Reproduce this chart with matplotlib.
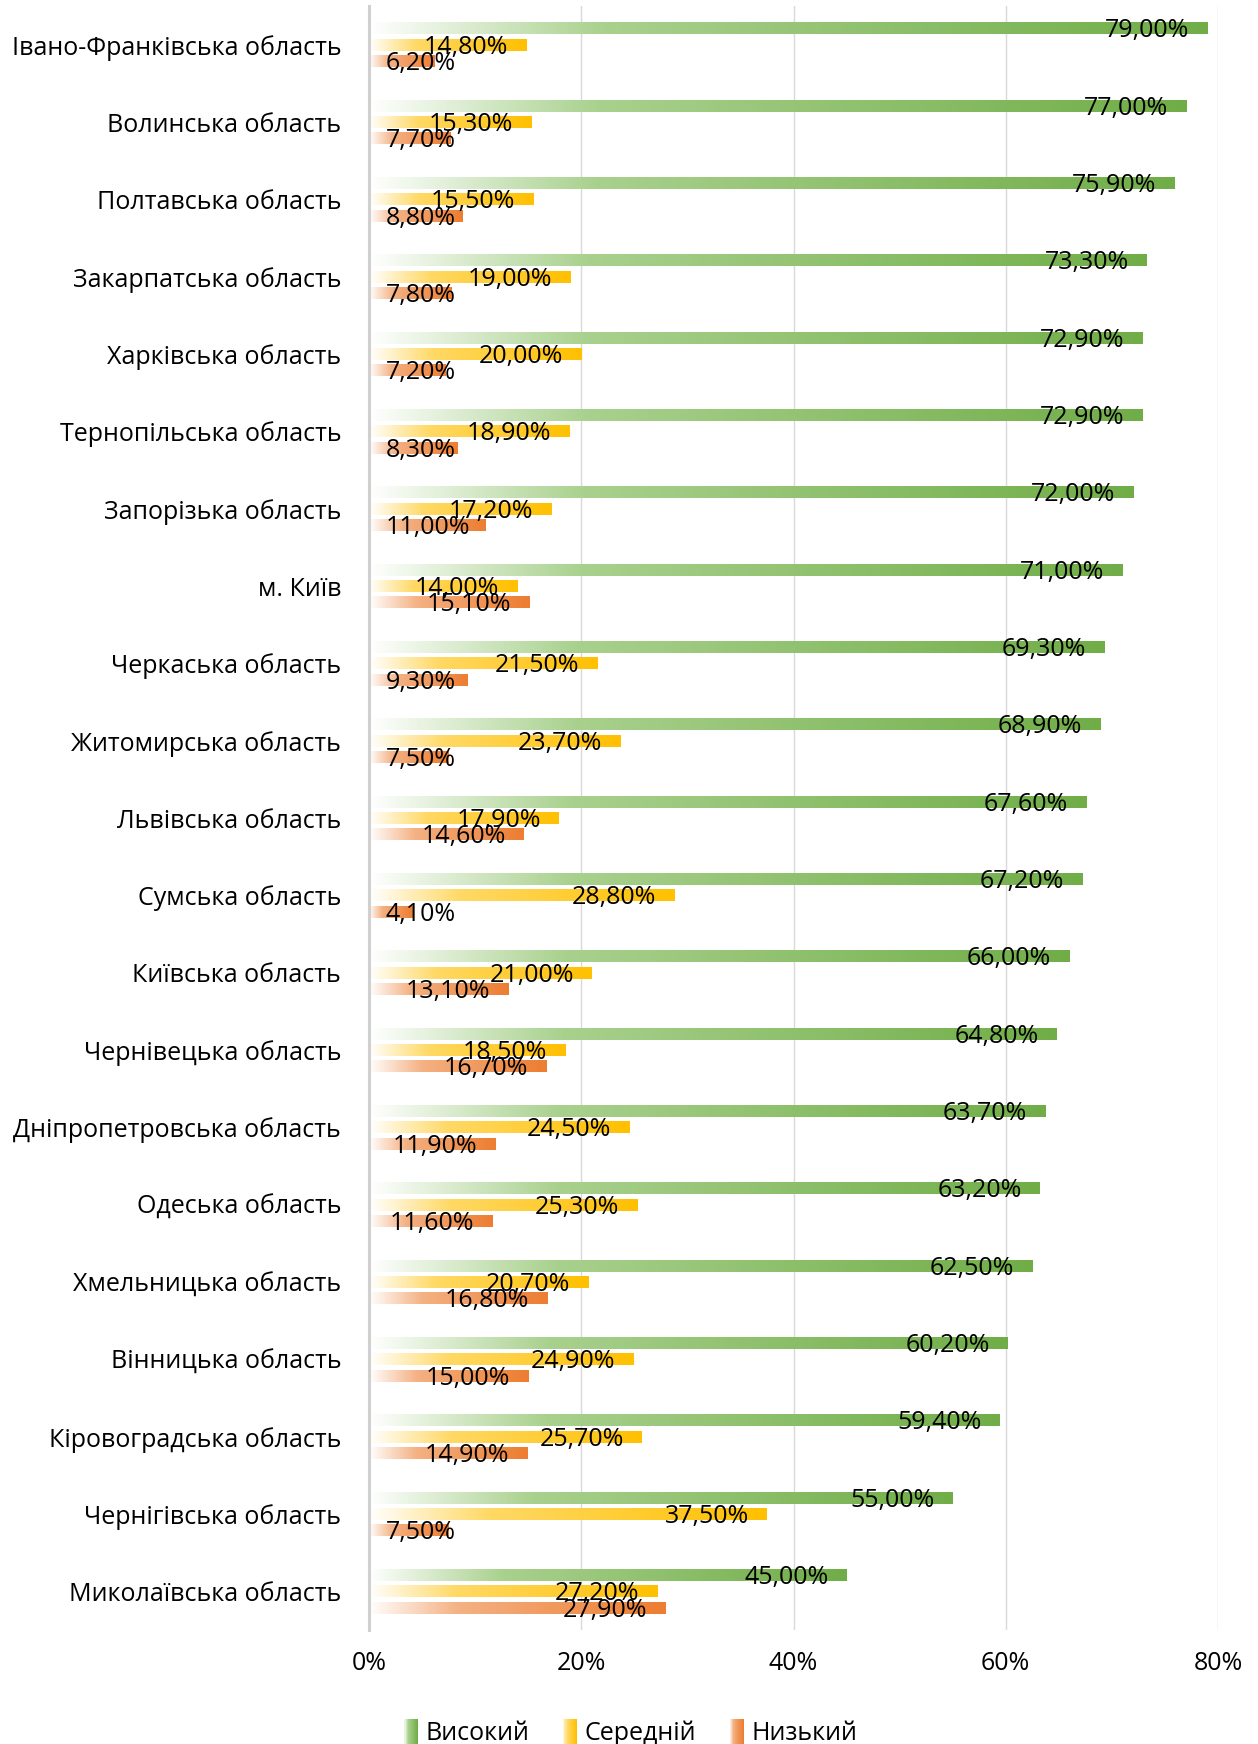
import numpy as np
import matplotlib
matplotlib.use('Agg')
import matplotlib.pyplot as plt
from matplotlib.colors import to_rgb
from matplotlib.patches import Rectangle
from matplotlib.legend_handler import HandlerBase

regions = [
    'Івано-Франківська область', 'Волинська область', 'Полтавська область',
    'Закарпатська область', 'Харківська область', 'Тернопільська область',
    'Запорізька область', 'м. Київ', 'Черкаська область', 'Житомирська область',
    'Львівська область', 'Сумська область', 'Київська область',
    'Чернівецька область', 'Дніпропетровська область', 'Одеська область',
    'Хмельницька область', 'Вінницька область', 'Кіровоградська область',
    'Чернігівська область', 'Миколаївська область',
]
high = [79.0, 77.0, 75.9, 73.3, 72.9, 72.9, 72.0, 71.0, 69.3, 68.9, 67.6,
        67.2, 66.0, 64.8, 63.7, 63.2, 62.5, 60.2, 59.4, 55.0, 45.0]
medium = [14.8, 15.3, 15.5, 19.0, 20.0, 18.9, 17.2, 14.0, 21.5, 23.7, 17.9,
          28.8, 21.0, 18.5, 24.5, 25.3, 20.7, 24.9, 25.7, 37.5, 27.2]
low = [6.2, 7.7, 8.8, 7.8, 7.2, 8.3, 11.0, 15.1, 9.3, 7.5, 14.6,
       4.1, 13.1, 16.7, 11.9, 11.6, 16.8, 15.0, 14.9, 7.5, 27.9]
series_names = ['Високий', 'Середній', 'Низький']
x_ticks = [0, 20, 40, 60, 80]
x_tick_labels = ['0%', '20%', '40%', '60%', '80%']

plt.rcParams['font.family'] = ['Open Sans', 'DejaVu Sans']

W, H = 1258, 1744
DPI = 100
fig = plt.figure(figsize=(W / DPI, H / DPI), dpi=DPI)
ax_left_px = 369
ax = fig.add_axes([ax_left_px / W, 1 - 1630 / H, 849 / W, 1624 / H])

stops_list = [
    [(0.0, '#ffffff'), (0.28, '#a9d18e'), (1.0, '#70ad47')],
    [(0.0, '#ffffff'), (0.30, '#ffd966'), (1.0, '#ffc000')],
    [(0.0, '#ffffff'), (0.30, '#f4b183'), (1.0, '#ed7d31')],
]


def gradient_row(stops, n=256):
    t = np.linspace(0, 1, n)
    pos = [s[0] for s in stops]
    cols = np.array([to_rgb(s[1]) for s in stops])
    arr = np.stack([np.interp(t, pos, cols[:, i]) for i in range(3)], axis=-1)
    return arr[np.newaxis, :, :]


y = np.arange(len(regions))
offsets = [-0.213, 0.0, 0.213]
bar_h = 0.155
texts = []
for vals, off, stops in zip([high, medium, low], offsets, stops_list):
    bars = ax.barh(y + off, vals, height=bar_h, color='none', linewidth=0)
    grad = gradient_row(stops)
    for rect, v in zip(bars, vals):
        x0, y0 = rect.get_x(), rect.get_y()
        w, h = rect.get_width(), rect.get_height()
        ax.imshow(grad, extent=(x0, x0 + w, y0 + h, y0), aspect='auto',
                  interpolation='bilinear', zorder=2)
        t = ax.annotate(f"{v:.2f}".replace('.', ',') + '%',
                        xy=(x0 + w, y0 + h / 2), xytext=(-13, -6.5),
                        textcoords='offset points', ha='right', va='baseline',
                        fontsize=18, color='#000000', zorder=6)
        texts.append(t)

ax.set_xlim(0, 80)
ax.set_ylim(len(regions) - 0.5, -0.5)
ax.set_xticks(x_ticks)
ax.set_xticklabels(x_tick_labels, fontsize=18)
ax.set_yticks(y)
ax.set_yticklabels(regions, fontsize=18)
ax.tick_params(axis='y', length=0, pad=20)
ax.tick_params(axis='x', length=0, pad=15)
for s in ['top', 'right', 'bottom']:
    ax.spines[s].set_visible(False)
ax.spines['left'].set_color('#d0d0d0')
ax.spines['left'].set_linewidth(2.2)
ax.xaxis.grid(True, color='#d9d9d9', linewidth=1.0)
ax.set_axisbelow(True)

# clamp labels so they do not start left of the axis
fig.canvas.draw()
renderer = fig.canvas.get_renderer()
min_x0 = ax_left_px + 17
for t in texts:
    bb = t.get_window_extent(renderer)
    if bb.x0 < min_x0:
        dx, dy = t.xyann
        t.xyann = (dx + (min_x0 - bb.x0) * 72 / DPI, dy)


class GradHandler(HandlerBase):
    def __init__(self, stops):
        super().__init__()
        self.stops = stops

    def create_artists(self, legend, orig_handle, xdescent, ydescent,
                       width, height, fontsize, trans):
        n = 14
        row = gradient_row(self.stops, n)[0]
        arts = []
        for k in range(n):
            r = Rectangle((-xdescent + width * k / n, -ydescent - 2),
                          width / n * 1.05, height + 4, facecolor=row[k],
                          edgecolor='none', transform=trans)
            arts.append(r)
        return arts


handles = [Rectangle((0, 0), 1, 1) for _ in series_names]
hmap = {h: GradHandler(s) for h, s in zip(handles, stops_list)}
fig.legend(handles, series_names, handler_map=hmap, loc='center',
           bbox_to_anchor=(0.501, 0.006), ncol=3, frameon=False, fontsize=18,
           handlelength=0.6, handleheight=0.9, columnspacing=1.3,
           handletextpad=0.3)

fig.savefig('out.png', dpi=DPI)
